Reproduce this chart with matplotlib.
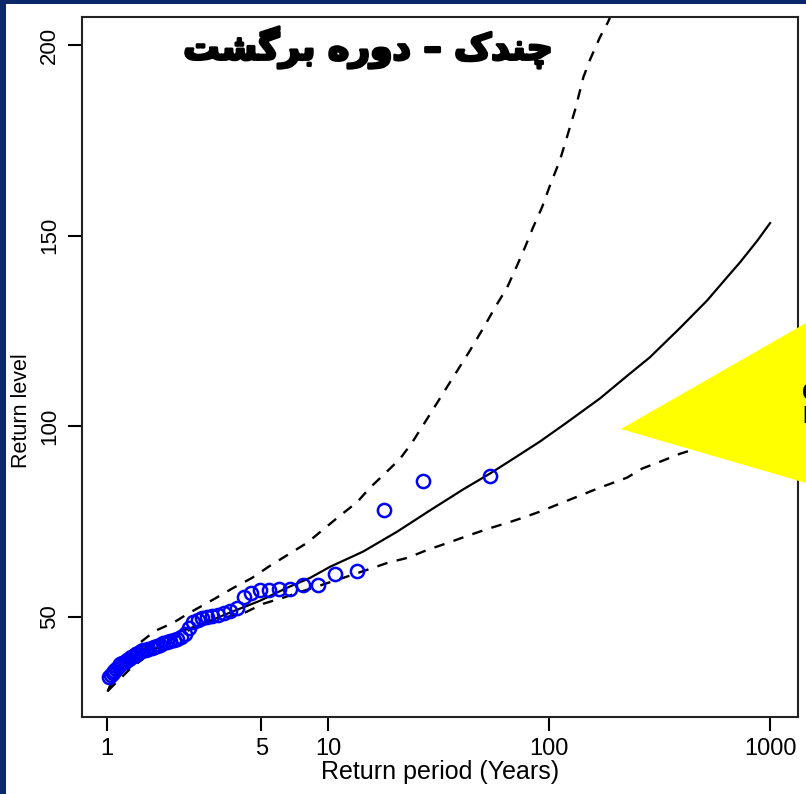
import numpy as np
import matplotlib.pyplot as plt
import matplotlib as mpl
from matplotlib.patches import Polygon, Rectangle
import matplotlib.patheffects as pe

mpl.rcParams["font.family"] = ["Liberation Sans", "DejaVu Sans"]

# empirical points: return period (years) and return level
obs_period = [54.0, 27.0, 18.0, 13.5, 10.8, 9.0, 7.71, 6.75, 6.0, 5.4,
              4.91, 4.5, 4.15, 3.86, 3.6, 3.38, 3.18, 3.0, 2.84, 2.7,
              2.57, 2.45, 2.35, 2.25, 2.16, 2.08, 2.0, 1.93, 1.86, 1.8,
              1.74, 1.69, 1.64, 1.59, 1.54, 1.5, 1.46, 1.42, 1.38, 1.35,
              1.32, 1.29, 1.26, 1.23, 1.2, 1.17, 1.15, 1.13, 1.1, 1.08,
              1.06, 1.04, 1.02]
obs_level = [87.0, 85.7, 78.1, 61.9, 61.2, 58.4, 58.3, 57.4, 57.2, 57.1,
             57.0, 56.3, 55.1, 52.4, 51.6, 50.9, 50.4, 50.1, 49.9, 49.6,
             49.2, 48.6, 47.0, 45.6, 44.8, 44.3, 43.9, 43.6, 43.3, 43.0,
             42.7, 42.4, 42.1, 41.8, 41.6, 41.4, 41.2, 41.0, 40.6, 40.2,
             39.8, 39.4, 39.0, 38.6, 38.2, 37.9, 37.5, 37.0, 36.4, 35.9,
             35.3, 34.8, 34.3]

# fitted return level curve
fit_period = [1.01, 1.087, 1.206, 1.41, 1.74, 2.14, 2.64, 3.60, 4.92, 6.52,
              8.29, 10.2, 14.4, 20.5, 28.9, 40.8, 54.1, 70.3, 91.0, 118.5,
              170, 220, 286, 393, 519, 626, 731, 873, 1000]
fit_level = [30.6, 34.5, 37.9, 41.1, 43.7, 46.1, 47.9, 51.1, 54.2, 57.6,
             60.2, 63.1, 67.1, 72.3, 77.9, 83.4, 87.6, 91.8, 96.0, 100.7,
             107.3, 112.7, 118.1, 125.9, 133.0, 138.5, 143.0, 148.6, 153.3]

# upper confidence bound
up_period = [1.01, 1.18, 1.41, 1.65, 1.99, 2.37, 3.02, 3.68, 4.53, 5.47,
             6.59, 8.04, 11.3, 13.5, 15.5, 18.1, 21.2, 24.0, 28.9, 35.6,
             43.9, 51.3, 57.0, 64.6, 71.7, 77.9, 84.7, 93.0, 101, 112,
             122, 131, 143, 153, 170, 185, 199]
up_level = [30.6, 39.2, 43.2, 46.3, 48.4, 51.1, 54.5, 57.4, 60.2, 63.4,
            66.3, 69.4, 76.5, 80.0, 83.9, 87.6, 91.5, 95.7, 103.1, 111.5,
            119.9, 126.5, 131.2, 136.4, 142.2, 147.0, 152.2, 157.5, 163.2, 169.8,
            176.9, 182.9, 191.6, 196.1, 202.1, 206.1, 210.5]

# lower confidence bound
lo_period = [1.01, 1.27, 1.74, 2.37, 3.08, 4.21, 5.08, 6.26, 8.55, 11.7,
             15.0, 18.7, 23.0, 28.3, 34.9, 43.0, 53.0, 65.2, 76.2, 91.0,
             112, 138, 170, 225, 264, 328, 392, 535, 731, 1000]
lo_level = [30.6, 36.3, 42.4, 46.6, 49.2, 51.1, 53.4, 55.0, 57.6, 60.2,
            62.3, 64.2, 65.5, 67.6, 69.4, 71.3, 73.1, 74.7, 76.0, 77.6,
            79.7, 81.8, 83.9, 86.5, 88.9, 91.0, 92.8, 95.2, 97.8, 100.2]

xticks = [1, 5, 10, 100, 1000]
yticks = [50, 100, 150, 200]

# "چندک – دوره برگشت" in presentation forms, visual order
title = "\ufe96\ufeb8\ufb94\ufeae\ufe91 \ufee9\ufead\ufeed\ufea9 \u2013 \ufb8e\ufeaa\ufee8\ufb7c"

W, H = 806, 794


def px(x, y):
    return (x / W, 1 - y / H)


fig = plt.figure(figsize=(W / 100, H / 100), dpi=100, facecolor="#0b286a")
fig.patches.append(Rectangle(px(6, 794), 800 / W, 790 / H, transform=fig.transFigure,
                             facecolor="white", edgecolor="none", zorder=-10))

l, b = px(82, 717)
r, t = px(798, 17)
ax = fig.add_axes([l, b, r - l, t - b])

dash = (0, (4.5, 4))
ax.plot(fit_period, fit_level, color="black", lw=1.6)
ax.plot(up_period, up_level, color="black", lw=1.7, ls=dash)
ax.plot(lo_period, lo_level, color="black", lw=1.7, ls=dash)
ax.plot(obs_period, obs_level, "o", mfc="none", mec="#0000ff", ms=9.5, mew=1.8)

ax.set_xscale("log")
ax.set_xlim(0.7707, 1338)
ax.set_ylim(23.7, 207.4)
ax.set_xticks(xticks)
ax.set_xticklabels([str(v) for v in xticks])
ax.xaxis.set_minor_locator(mpl.ticker.NullLocator())
ax.set_yticks(yticks)
ax.set_yticklabels([str(v) for v in yticks], rotation=90, va="center")
ax.tick_params(axis="both", length=10, width=1.5, labelsize=16, direction="out", pad=6)
ax.tick_params(axis="x", labelsize=17, pad=5)

for s in ax.spines.values():
    s.set_linewidth(1.5)
    s.set_color("#222222")

ax.set_xlabel("Return period (Years)", fontsize=18, labelpad=0)
ax.set_ylabel("Return level", fontsize=15.5)
ax.yaxis.set_label_coords(-0.07, (717 - 411) / 700)

fig.text(0.457, 0.94, title, ha="center", va="center", fontsize=26,
         fontweight="bold", family=["DejaVu Sans"],
         path_effects=[pe.withStroke(linewidth=2, foreground="black")])

# yellow callout on the right edge
fig.patches.append(Polygon([px(621, 429), px(806, 323), px(806, 483)], closed=True,
                           transform=fig.transFigure, facecolor="#ffff00",
                           edgecolor="none", zorder=5))
fig.text(802 / W, 1 - 405 / H, "Confidence\nInterval", ha="left", va="center",
         fontsize=17, fontweight="bold", color="black", zorder=6,
         family=["Liberation Sans", "DejaVu Sans"], linespacing=1.0)

fig.savefig("out.png", dpi=100, facecolor=fig.get_facecolor())
